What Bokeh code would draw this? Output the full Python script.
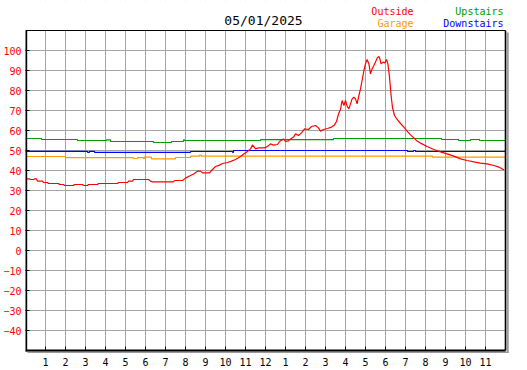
from bokeh.plotting import figure
from bokeh.models import Range1d, FixedTicker, Label
from bokeh.embed import file_html
from bokeh.resources import INLINE

# ---------------- data (hour of day, degrees) ----------------
title_text = "05/01/2025"

outside_h = [0, 0.2, 0.25, 0.4, 0.45, 0.55, 0.6, 0.85, 0.9, 1.1, 1.15, 1.65, 1.7, 1.9, 1.95, 2.4,
             2.45, 2.85, 2.9, 3.1, 3.15, 3.6, 3.65, 4.6, 4.65, 5.1, 5.15, 5.35, 5.4, 6.15, 6.25,
             6.35, 7.4, 7.45, 7.85, 8.0, 8.25, 8.45, 8.6, 8.75, 8.85, 9.2, 9.35, 9.5, 9.7, 9.85,
             10.1, 10.3, 10.5, 10.75, 10.95, 11.1, 11.25, 11.35, 11.5, 11.65, 11.95, 12.1, 12.25,
             12.4, 12.6, 12.7, 12.9, 13.0, 13.15, 13.25, 13.4, 13.5, 13.65, 13.8, 13.95, 14.15,
             14.3, 14.5, 14.65, 14.75, 14.9, 15.1, 15.3, 15.45, 15.55, 15.65, 15.75, 15.83, 15.92,
             16.0, 16.08, 16.17, 16.25, 16.33, 16.42, 16.5, 16.58, 16.67, 16.75, 16.83, 16.92,
             17.0, 17.08, 17.17, 17.25, 17.33, 17.42, 17.5, 17.58, 17.67, 17.72, 17.78, 17.88,
             17.97, 18.05, 18.12, 18.2, 18.28, 18.35, 18.45, 18.6, 18.75, 18.92, 19.08, 19.25,
             19.42, 19.58, 19.75, 20.08, 20.42, 20.75, 21.08, 21.42, 21.75, 22.08, 22.42, 22.75,
             23.08, 23.42, 23.67, 23.92]
outside_t = [35.8, 35.8, 35.5, 35.5, 35.8, 35.8, 34.7, 34.7, 34.0, 34.0, 33.5, 33.5, 33.0, 33.0,
             32.5, 32.5, 33.0, 33.0, 32.5, 32.5, 33.0, 33.0, 33.5, 33.5, 34.0, 34.0, 34.7, 34.7,
             35.5, 35.5, 34.7, 34.3, 34.3, 35.0, 35.0, 36.2, 37.5, 38.5, 39.7, 39.7, 38.8, 38.8,
             40.5, 42.0, 42.7, 43.5, 44.0, 44.7, 45.5, 47.0, 48.5, 49.5, 50.8, 52.8, 50.8, 51.3,
             51.3, 52.0, 53.3, 52.7, 53.0, 54.5, 55.8, 54.5, 54.8, 55.8, 56.7, 58.3, 57.5, 58.8,
             60.8, 60.5, 62.0, 62.5, 61.3, 59.7, 60.5, 61.0, 61.7, 62.8, 64.5, 68.3, 70.5, 75.0,
             72.5, 75.0, 72.2, 70.8, 73.3, 75.8, 76.7, 75.8, 73.3, 77.5, 80.8, 85.0, 90.0, 93.3,
             95.5, 93.3, 88.3, 90.8, 92.5, 94.2, 96.2, 97.0, 95.8, 93.3, 94.2, 93.8, 95.5, 93.3,
             86.7, 77.5, 71.5, 67.5, 65.3, 63.5, 61.7, 59.7, 57.8, 56.3, 54.7, 53.7, 52.0, 50.5,
             49.3, 48.3, 47.2, 45.8, 45.0, 44.3, 43.7, 43.3, 42.5, 41.7, 40.2]

upstairs_h = [0, 0.8, 2.6, 4.05, 4.25, 6.4, 7.3, 7.9, 7.95, 11.75, 15.4, 20.8, 21.65, 22.25, 22.7, 24]
upstairs_t = [56.0, 55.5, 55.0, 55.3, 54.5, 54.0, 54.5, 55.3, 55.0, 55.4, 56.0, 55.5, 55.0, 55.5, 55.0, 55.0]

downstairs_h = [0, 3.1, 3.2, 3.45, 8.25, 10.35, 10.4, 19.1, 19.4, 19.5, 24]
downstairs_t = [49.6, 49.1, 49.6, 49.1, 49.5, 49.1, 50.0, 49.5, 50.0, 49.5, 49.5]

garage_h = [0, 2.0, 5.4, 5.6, 5.9, 5.95, 6.3, 7.5, 8.25, 8.7, 8.8, 20.35, 24]
garage_t = [47.0, 46.4, 46.0, 46.4, 46.0, 46.7, 45.8, 46.5, 47.2, 47.7, 47.2, 46.7, 46.7]

hour_ticks = list(range(1, 24))
hour_labels = ["1", "2", "3", "4", "5", "6", "7", "8", "9", "10", "11", "12",
               "1", "2", "3", "4", "5", "6", "7", "8", "9", "10", "11"]
temp_ticks = [-40, -30, -20, -10, 0, 10, 20, 30, 40, 50, 60, 70, 80, 90, 100]

series_names = ["Outside", "Garage", "Upstairs", "Downstairs"]
series_colors = ["#ff0000", "#ff9900", "#009900", "#0000ff"]

# ---------------- figure ----------------
X_MAX, Y_MIN, Y_MAX = 24, -50, 110
X_PAD, Y_PAD, Y_HEAD = 0.2, 2, 15   # shadow room and header room inside the frame

FONT = "DejaVu Sans Mono"

p = figure(frame_width=484, frame_height=354,
           x_range=Range1d(0, X_MAX + X_PAD), y_range=Range1d(Y_MIN - Y_PAD, Y_MAX + Y_HEAD),
           output_backend="svg", toolbar_location=None,
           min_border_left=25, min_border_right=10, min_border_top=0, min_border_bottom=16)
p.outline_line_color = None
p.background_fill_color = "white"
p.border_fill_color = "white"

# axes
xa = p.xaxis[0]
xa.ticker = FixedTicker(ticks=hour_ticks)
xa.major_label_overrides = {h: s for h, s in zip(hour_ticks, hour_labels)}
xa.axis_line_color = None
xa.major_tick_in = 0
xa.major_tick_out = 0
xa.minor_tick_line_color = None
xa.major_label_standoff = 3
xa.major_label_text_font = FONT
xa.major_label_text_font_size = "10px"
xa.major_label_text_color = "black"

ya = p.yaxis[0]
ya.ticker = FixedTicker(ticks=temp_ticks)
ya.axis_line_color = None
ya.major_tick_in = 4
ya.major_tick_out = 0
ya.major_tick_line_color = "black"
ya.minor_tick_line_color = None
ya.major_label_standoff = 4
ya.major_label_text_font = FONT
ya.major_label_text_font_size = "10px"
ya.major_label_text_color = "#ff0000"

for g in (p.xgrid[0], p.ygrid[0]):
    g.grid_line_color = "#a4a4a4"
    g.grid_line_width = 1

# cover grid outside the plotting box (header, shadow strips)
p.quad(left=[X_MAX, 0, 0], right=[X_MAX + X_PAD, X_MAX + X_PAD, X_MAX + X_PAD],
       top=[Y_MAX, Y_MIN, Y_MAX + Y_HEAD], bottom=[Y_MIN - Y_PAD, Y_MIN - Y_PAD, Y_MAX],
       fill_color="white", line_color=None)
# drop shadow
p.quad(left=[X_MAX + 0.06, 0.1], right=[X_MAX + 0.16, X_MAX + 0.16],
       top=[Y_MAX - 1, Y_MIN - 0.5], bottom=[Y_MIN - 1.3, Y_MIN - 1.3],
       fill_color="#9a9a9a", line_color=None)

# data series
p.step(garage_h, garage_t, mode="after", line_color=series_colors[1], line_width=1.2)
p.step(upstairs_h, upstairs_t, mode="after", line_color=series_colors[2], line_width=1.2)
p.step(downstairs_h, downstairs_t, mode="after", line_color=series_colors[3], line_width=1.2)
p.line(outside_h, outside_t, line_color=series_colors[0], line_width=1.2)

# frame borders: bottom, right, top, left
p.segment(x0=[0, X_MAX, 0, 0], y0=[Y_MIN, Y_MIN, Y_MAX, Y_MIN - 0.5],
          x1=[X_MAX, X_MAX, X_MAX, 0], y1=[Y_MIN, Y_MAX, Y_MAX, Y_MAX],
          line_color="black", line_width=[2, 1.6, 1.2, 3.4])
# bottom ticks
p.segment(x0=hour_ticks, y0=[Y_MIN] * len(hour_ticks), x1=hour_ticks, y1=[Y_MIN + 2] * len(hour_ticks),
          line_color="black", line_width=1)

# title and legend text
p.add_layout(Label(x=11.9, y=115.0, text=title_text, text_font=FONT, text_font_size="13px",
                   text_align="center", text_baseline="middle", text_color="black"))
legend_pos = [(19.4, 119.4), (19.4, 113.6), (23.9, 119.4), (23.9, 113.6)]
for name, col, (lx, ly) in zip(series_names, series_colors, legend_pos):
    p.add_layout(Label(x=lx, y=ly, text=name, text_font=FONT, text_font_size="10px",
                       text_align="right", text_baseline="middle", text_color=col))

open("out.html", "w").write(file_html(p, INLINE))
